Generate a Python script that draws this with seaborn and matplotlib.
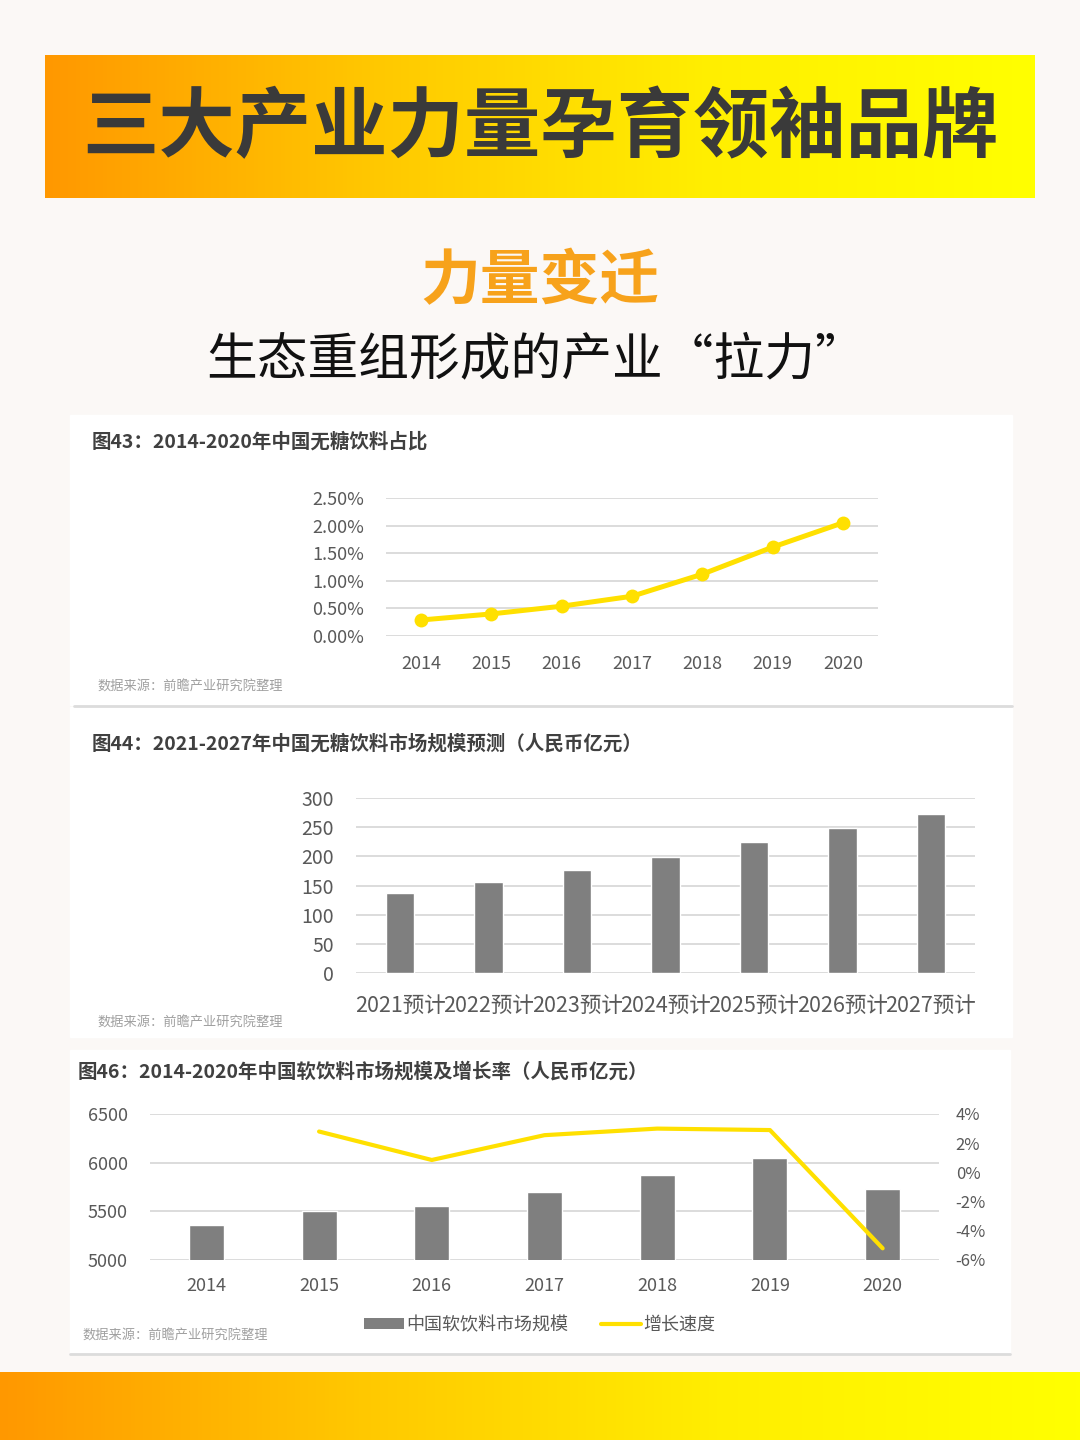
import numpy as np
import pandas as pd
import matplotlib.pyplot as plt
from matplotlib.patches import Rectangle, Patch
from matplotlib.lines import Line2D
import seaborn as sns

# ---- data ----
share_years = ["2014", "2015", "2016", "2017", "2018", "2019", "2020"]
share_pct = [0.29, 0.40, 0.54, 0.72, 1.12, 1.61, 2.05]
share_ticks = ["0.00%", "0.50%", "1.00%", "1.50%", "2.00%", "2.50%"]

forecast_years = ["2021预计", "2022预计", "2023预计", "2024预计", "2025预计", "2026预计", "2027预计"]
forecast_size = [137, 156, 177, 199, 225, 249, 273]

soft_years = ["2014", "2015", "2016", "2017", "2018", "2019", "2020"]
soft_size = [5360, 5503, 5555, 5699, 5873, 6048, 5730]
growth_years = ["2015", "2016", "2017", "2018", "2019", "2020"]
growth_pct = [2.8, 0.85, 2.55, 3.0, 2.9, -5.2]
growth_ticks = ["-6%", "-4%", "-2%", "0%", "2%", "4%"]

W, H = 1080, 1440
GRAY = "#7f7f7f"
GRID = "#d9d9d9"
YEL = "#FFE000"
TXT = "#595959"

sns.set_theme(style="white")
plt.rcParams["font.family"] = ["Noto Sans CJK SC", "DejaVu Sans"]

fig = plt.figure(figsize=(W / 100, H / 100), dpi=100)
fig.patch.set_facecolor("#fbf8f6")


def box(x0, y0, x1, y1):
    return [x0 / W, 1 - y1 / H, (x1 - x0) / W, (y1 - y0) / H]


# background layer with banners and panels
bg = fig.add_axes([0, 0, 1, 1])
bg.set_xlim(0, W)
bg.set_ylim(H, 0)
bg.axis("off")

grad = np.linspace(0, 1, 256).reshape(1, -1)
cmap = sns.blend_palette(["#FF9800", "#FFC800", "#FFEE00", "#FFFF00"], as_cmap=True)
bg.imshow(grad, extent=[45, 1035, 198, 55], cmap=cmap, aspect="auto", zorder=1)
bg.imshow(grad, extent=[0, 1080, 1440, 1372], cmap=cmap, aspect="auto", zorder=1)

bg.add_patch(Rectangle((70, 415), 942, 290, color="white", zorder=1))
bg.add_patch(Rectangle((70, 707), 942, 330, color="white", zorder=1))
bg.add_patch(Rectangle((70, 1050), 940, 303, color="white", zorder=1))
bg.plot([74, 1012], [706, 706], color="#dcdcdc", lw=2, zorder=2)
bg.plot([70, 1010], [1354, 1354], color="#dcdcdc", lw=2, zorder=2)

bg.text(540, 128, "三大产业力量孕育领袖品牌", ha="center", va="center",
        fontsize=55, fontweight="heavy", color="#3a3a3a", zorder=3)
bg.text(540, 282, "力量变迁", ha="center", va="center",
        fontsize=43, fontweight="bold", color="#F7A21B", zorder=3)
bg.text(536, 360, "生态重组形成的产业“拉力”", ha="center", va="center",
        fontsize=36.5, color="#111111", zorder=3)

bg.text(92, 442, "图43：2014-2020年中国无糖饮料占比", ha="left", va="center",
        fontsize=14, fontweight="bold", color="#404040", zorder=3)
bg.text(92, 744, "图44：2021-2027年中国无糖饮料市场规模预测（人民币亿元）", ha="left", va="center",
        fontsize=14, fontweight="bold", color="#404040", zorder=3)
bg.text(78, 1072, "图46：2014-2020年中国软饮料市场规模及增长率（人民币亿元）", ha="left", va="center",
        fontsize=14, fontweight="bold", color="#404040", zorder=3)
for sx, sy in [(97, 687), (97, 1023), (82, 1336)]:
    bg.text(sx, sy, "数据来源：前瞻产业研究院整理", ha="left", va="center",
            fontsize=9.5, color="#a0a0a0", zorder=3)


def style(ax):
    sns.despine(ax=ax, left=True, bottom=True, right=True, top=True)
    ax.set_facecolor("none")
    ax.grid(axis="y", color=GRID, lw=1.3)
    ax.grid(axis="x", visible=False)
    ax.set_axisbelow(True)
    ax.tick_params(axis="both", length=0, colors=TXT, labelsize=13)
    ax.set_xlabel("")
    ax.set_ylabel("")


# ---- chart 1: sugar-free share ----
ax1 = fig.add_axes(box(386, 498, 878, 636))
df1 = pd.DataFrame({"year": share_years, "pct": share_pct})
sns.lineplot(data=df1, x="year", y="pct", ax=ax1, color=YEL, lw=3.6,
             marker="o", markersize=10, markeredgewidth=0)
ax1.set_xlim(-0.5, len(share_years) - 0.5)
ax1.set_ylim(0, 2.5)
ax1.set_yticks(np.arange(0, 2.51, 0.5))
ax1.set_yticklabels(share_ticks)
style(ax1)
ax1.tick_params(axis="x", pad=14)
ax1.tick_params(axis="y", pad=16)

# ---- chart 2: forecast ----
ax2 = fig.add_axes(box(356, 798, 975, 973))
df2 = pd.DataFrame({"year": forecast_years, "size": forecast_size})
sns.barplot(data=df2, x="year", y="size", ax=ax2, color=GRAY, width=0.32, saturation=1)
ax2.set_xlim(-0.5, len(forecast_years) - 0.5)
ax2.set_ylim(0, 300)
ax2.set_yticks(range(0, 301, 50))
style(ax2)
ax2.tick_params(axis="x", pad=16, labelsize=15.5)
ax2.tick_params(axis="y", pad=16, labelsize=14)

# ---- chart 3: soft drinks ----
ax3 = fig.add_axes(box(150, 1114, 939, 1260))
df3 = pd.DataFrame({"year": soft_years, "size": soft_size})
sns.barplot(data=df3, x="year", y="size", ax=ax3, color=GRAY, width=0.31, saturation=1)
ax3.set_xlim(-0.5, len(soft_years) - 0.5)
ax3.set_ylim(5000, 6500)
ax3.set_yticks(range(5000, 6501, 500))
style(ax3)
ax3.tick_params(axis="x", pad=12, labelsize=13)
ax3.tick_params(axis="y", pad=16, labelsize=13)

ax4 = ax3.twinx()
gx = [soft_years.index(y) for y in growth_years]
sns.lineplot(x=gx, y=growth_pct, ax=ax4, color=YEL, lw=3)
ax4.set_ylim(-6, 4)
ax4.set_yticks(range(-6, 5, 2))
ax4.set_yticklabels(growth_ticks)
sns.despine(ax=ax4, left=True, bottom=True, right=True, top=True)
ax4.tick_params(axis="y", length=0, colors=TXT, labelsize=12, pad=12)
ax4.set_ylabel("")
ax4.grid(False)

handles = [Patch(facecolor=GRAY, edgecolor="none"),
           Line2D([0], [0], color=YEL, lw=3)]
fig.legend(handles, ["中国软饮料市场规模", "增长速度"], loc="center",
           bbox_to_anchor=(540 / W, 1 - 1325 / H), ncol=2, frameon=False,
           fontsize=13, labelcolor=TXT, handlelength=2.2, handleheight=0.6,
           columnspacing=1.8, handletextpad=0.15)

fig.savefig("out.png", dpi=100)
